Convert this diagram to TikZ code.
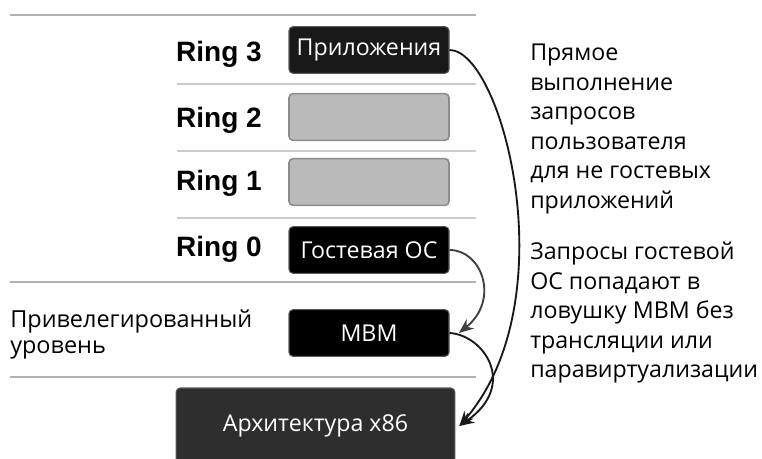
\documentclass[tikz,border=0pt]{standalone}
\usepackage{fontspec}
\setmainfont{Open Sans}
\newfontfamily\ringfont{Liberation Sans}
\usetikzlibrary{arrows.meta}

\tikzset{
	darkbox/.style={draw=black!65, fill=black, rounded corners=3pt, text=white, minimum width=120pt, minimum height=35pt, line width=0.8pt},
	greybox/.style={draw=black!45, fill=black!27, rounded corners=3pt, minimum width=120pt, minimum height=35pt, line width=1.2pt},
	ringlabel/.style={anchor=east, inner sep=0pt, font=\ringfont\bfseries\fontsize{21}{24}\selectfont},
	bigline/.style={draw=black!30, line width=2.2pt},
	smallline/.style={draw=black!20, line width=0.8pt},
	jump/.style={-{Stealth[length=11pt,width=9pt]}, line width=1.4pt, draw=black!90},
	note/.style={anchor=north west, align=left, inner sep=0pt},
}

\begin{document}
\begin{tikzpicture}[x=0.75pt, y=-0.75pt, font=\fontsize{17.4}{22.1}\selectfont]
	\useasboundingbox (0,0) rectangle (762,459);
	
	% separators
	\draw[bigline] (10,15) -- (476,15);
	\draw[smallline] (177,84) -- (476,84);
	\draw[smallline] (177,151) -- (476,151);
	\draw[smallline] (177,218) -- (476,218);
	\draw[bigline] (10,282) -- (476,282);
	\draw[bigline] (10,377) -- (476,377);
	
	% rings
	\node[ringlabel] (r3) at (262,54)  {Ring 3};
	\node[ringlabel] (r2) at (262,120) {Ring 2};
	\node[ringlabel] (r1) at (262,183) {Ring 1};
	\node[ringlabel] (r0) at (262,249) {Ring 0};
	\node[note, font=\fontsize{17.6}{19.5}\selectfont] (priv) at (10,309) {Привелегированный\\уровень};
	
	\node[darkbox, fill=black!90] (app) at (369,50)  {Приложения};
	\node[greybox] (b2) at (369,117) {};
	\node[greybox] (b1) at (369,182) {};
	\node[darkbox] (guest) at (369,250) {Гостевая ОС};
	\node[darkbox] (mvm) at (369,333) {МВМ};
	\node[darkbox, fill=black!82, minimum width=209pt, minimum height=57pt] (arch) at (315.5,426) {Архитектура x86};
	
	% notes
	\node[note] (direct) at (530,44) {Прямое\\выполнение\\запросов\\пользователя\\для не гостевых\\приложений};
	\node[note] (trap) at (530,242) {Запросы гостевой\\ОС попадают в\\ловушку МВМ без\\трансляции или\\паравиртуализации};
	
	% arrows
	\draw[jump] (app.east) .. controls (502,50) and (568,300) .. ([xshift=3pt]arch.east);
	\draw[jump, draw=black!75] (guest.east) .. controls (482,250) and (500,300) .. ([xshift=7pt]mvm.east);
	\draw[jump] (mvm.east) .. controls (484,335) and (518,385) .. ([xshift=3pt]arch.east);
	
\end{tikzpicture}
\end{document}
